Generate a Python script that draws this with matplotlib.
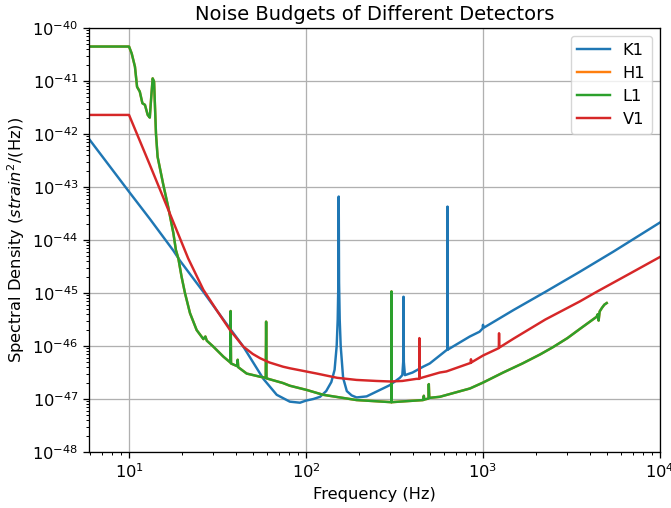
import matplotlib
matplotlib.use("Agg")
import matplotlib.pyplot as plt
from matplotlib.ticker import FixedLocator, LogLocator, NullFormatter

# ---------------- data ----------------
k1_freq = [5.9, 10, 13.1, 17.8, 19.4, 26.3, 34.1, 44.2, 57.4, 68.3, 81, 92.4,
           100, 110, 120, 130, 139, 145, 149, 151, 152.3, 153, 153.7, 155, 157,
           162, 170, 181, 193, 220, 240, 297, 339, 350, 354, 355.5, 357, 362,
           400, 459, 500, 621, 629, 630, 631, 842, 956, 995, 1000, 1005, 1490,
           2250, 3520, 5450, 10000]
k1_psd = [8.32e-43, 8.13e-44, 2.51e-44, 6.31e-45, 4.07e-45, 1.05e-45, 3.16e-46,
          9.77e-47, 2.40e-47, 1.20e-47, 8.91e-48, 8.51e-48,
          9.33e-48, 1.00e-47, 1.10e-47, 1.41e-47, 2.09e-47, 3.55e-47, 1.00e-46,
          3.16e-46, 1.58e-45, 6.61e-44, 1.58e-45, 3.16e-46, 1.00e-46,
          2.51e-47, 1.41e-47, 1.17e-47, 1.07e-47, 1.12e-47, 1.29e-47, 1.82e-47,
          2.51e-47, 2.82e-47, 5.01e-47, 8.51e-46, 5.01e-47, 2.82e-47,
          3.16e-47, 4.07e-47, 4.68e-47, 8.32e-47, 8.51e-47, 4.27e-44, 8.51e-47,
          1.51e-46, 1.86e-46, 2.14e-46, 2.51e-46, 2.19e-46, 4.79e-46,
          1.05e-45, 2.51e-45, 6.03e-45, 2.14e-44]

l1_freq = [5.9, 10.0, 10.35, 10.8, 11.1, 11.5, 11.9, 12.3, 12.75, 13.1, 13.35,
           13.6, 13.85, 14.2, 14.5, 15.6, 16.65, 17.8, 18.4, 19.0, 19.8, 20.7,
           22.1, 24.1, 26.3, 27.0, 27.5, 29.9, 34.1, 37.3, 37.5, 37.7, 40.8,
           41.1, 41.4, 46.2, 55.0, 59.2, 59.5, 59.8, 74.1, 81, 101, 125, 193,
           303.5, 304, 304.5, 459, 463, 466, 492, 494, 497, 570, 844, 1000,
           1300, 1670, 2100, 2490, 3000, 3520, 4380, 4450, 4500, 4560, 4700,
           4850, 5000]
l1_psd = [4.47e-41, 4.47e-41, 3.31e-41, 1.86e-41, 7.76e-42, 6.31e-42, 3.80e-42,
          3.55e-42, 2.29e-42, 2.04e-42, 5.01e-42,
          1.12e-41, 9.77e-42, 1.00e-42, 3.72e-43, 1.12e-43, 4.17e-44, 1.35e-44,
          6.46e-45, 4.47e-45, 2.04e-45, 1.00e-45,
          4.17e-46, 2.00e-46, 1.35e-46, 1.51e-46, 1.26e-46, 9.77e-47, 6.31e-47,
          4.90e-47, 4.57e-46, 4.68e-47, 4.17e-47,
          5.50e-47, 3.98e-47, 3.02e-47, 2.63e-47, 2.51e-47, 2.88e-46, 2.45e-47,
          2.00e-47, 1.78e-47, 1.48e-47, 1.20e-47, 9.55e-48,
          8.71e-48, 1.07e-45, 8.71e-48, 9.55e-48, 1.15e-47, 9.77e-48, 1.02e-47,
          1.91e-47, 1.05e-47, 1.10e-47, 1.58e-47, 2.04e-47,
          3.16e-47, 4.68e-47, 6.92e-47, 9.55e-47, 1.41e-46, 2.09e-46, 3.55e-46,
          3.98e-46, 3.02e-46, 4.47e-46, 5.25e-46,
          6.03e-46, 6.46e-46]

# H1 is drawn identical to L1 (hidden beneath it in the reference)
h1_freq = list(l1_freq)
h1_psd = list(l1_psd)

v1_freq = [5.9, 10, 13.1, 17.0, 21.6, 26.3, 31.2, 37.2, 44.2, 50, 55, 62, 74.1,
           81, 115, 150, 193, 250, 300, 350, 421, 436.5, 437, 437.5, 570, 621,
           850, 855, 860, 1000, 1228, 1232, 1236, 1490, 2250, 3520, 4380, 6780,
           10000]
v1_psd = [2.29e-42, 2.29e-42, 2.63e-43, 3.16e-44, 4.47e-45, 1.15e-45, 4.79e-46,
          2.00e-46, 9.77e-47, 7.08e-47, 5.89e-47, 4.90e-47, 4.07e-47,
          3.80e-47, 3.02e-47, 2.51e-47, 2.29e-47, 2.19e-47, 2.14e-47, 2.19e-47,
          2.40e-47, 2.40e-47, 1.41e-46, 2.45e-47, 3.16e-47, 3.31e-47,
          4.79e-47, 5.62e-47, 4.90e-47, 6.61e-47, 9.12e-47, 1.74e-46, 9.33e-47,
          1.38e-46, 3.16e-46, 6.92e-46, 1.05e-45, 2.34e-45,
          4.79e-45]

labels = ["K1", "H1", "L1", "V1"]
colors = ["#1f77b4", "#ff7f0e", "#2ca02c", "#d62728"]
y_decades = [1e-48, 1e-47, 1e-46, 1e-45, 1e-44, 1e-43, 1e-42, 1e-41, 1e-40]

# ---------------- figure ----------------
s = 1.17
plt.rcParams.update({
    "font.size": 10 * s,
    "axes.linewidth": 0.8 * s,
    "xtick.major.size": 3.5 * s, "ytick.major.size": 3.5 * s,
    "xtick.minor.size": 2.0 * s, "ytick.minor.size": 2.0 * s,
    "xtick.major.width": 0.8 * s, "ytick.major.width": 0.8 * s,
    "xtick.minor.width": 0.6 * s, "ytick.minor.width": 0.6 * s,
})

fig = plt.figure(figsize=(6.71, 5.08), dpi=100)
ax = fig.add_axes([89 / 671, 1 - 452 / 508, (660 - 89) / 671, (452 - 28) / 508])

series = [(k1_freq, k1_psd), (h1_freq, h1_psd), (l1_freq, l1_psd), (v1_freq, v1_psd)]
for (f, p), lab, c in zip(series, labels, colors):
    ax.loglog(f, p, color=c, label=lab, linewidth=1.5 * s)

ax.set_xlim(5.94, 1e4)
ax.set_ylim(1e-48, 1e-40)
ax.yaxis.set_major_locator(FixedLocator(y_decades))
ax.yaxis.set_minor_locator(LogLocator(base=10, subs=range(2, 10), numticks=100))
ax.yaxis.set_minor_formatter(NullFormatter())
ax.grid(True, which="major", color="#b0b0b0", linewidth=0.8 * s)
ax.set_axisbelow(True)

ax.set_title("Noise Budgets of Different Detectors", fontsize=12 * s)
ax.set_xlabel("Frequency (Hz)", fontsize=10 * s)
ax.set_ylabel(r"Spectral Density ($strain^2$/(Hz))", fontsize=10 * s)
ax.legend(loc="upper right", fontsize=10 * s)

fig.savefig("out.png", dpi=100)
